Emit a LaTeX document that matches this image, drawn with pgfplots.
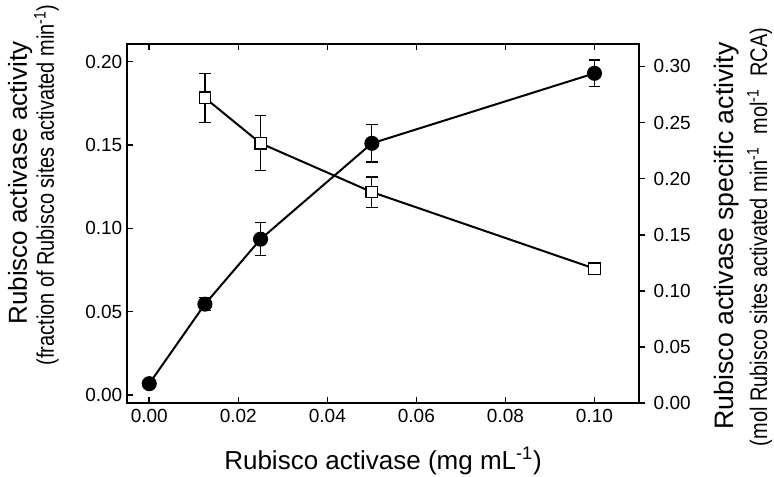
\documentclass[border=0pt]{standalone}
\usepackage{pgfplots}
\pgfplotsset{compat=1.18}
\usepackage{fontspec}
\setmainfont{Liberation Sans}
\newfontfamily\narrowfont[FakeStretch=0.83]{Liberation Sans}

\pgfplotsset{common/.style={
  scale only axis, width=384pt, height=269.25pt,
  at={(0pt,0pt)}, anchor=south west,
  xmin=-0.005, xmax=0.11,
  axis line style={line width=1.5pt},
  major tick length=4.5pt,
  every tick/.style={black, line width=1.2pt},
  minor tick num=0,
  tick label style={font=\fontsize{14.25}{16}\selectfont},
  /pgf/number format/assume math mode=true,
  /pgf/number format/fixed,
  /pgf/number format/fixed zerofill,
  /pgf/number format/precision=2,
  clip=false,
}}

\begin{document}
\begin{tikzpicture}
\path[use as bounding box] (-95.25pt,-55.5pt) rectangle (485.25pt,302.25pt);

\begin{axis}[common,
  ymin=-0.0048, ymax=0.2106,
  xtick={0,0.02,0.04,0.06,0.08,0.1},
  ytick={0,0.05,0.1,0.15,0.2},
  xtick pos=both, ytick pos=left, tick align=inside,
  xticklabel style={yshift=-1pt},
]
\addplot[black, line width=1.5pt, mark=*, mark size=4.9pt,
  mark options={solid, fill=black},
  error bars/.cd, y dir=both, y explicit,
  error bar style={line width=0.9pt},
  error mark options={rotate=90, mark size=4.4pt, line width=0.9pt}]
  table[x=x, y=y, y error=e] {
x      y       e
0      0.0068  0
0.0125 0.0545  0.004
0.025  0.0935  0.0098
0.05   0.151   0.0112
0.1    0.193   0.008
};
\end{axis}

\begin{axis}[common,
  ymin=0, ymax=0.320,
  axis x line=none, axis y line*=right,
  ytick={0,0.05,0.1,0.15,0.2,0.25,0.3},
  ytick pos=right, tick align=outside,
  yticklabel style={xshift=3pt},
]
\addplot[black, line width=1.5pt, mark=square*, mark size=4.3pt,
  mark options={solid, fill=white, line width=1pt},
  error bars/.cd, y dir=both, y explicit,
  error bar style={line width=0.9pt},
  error mark options={rotate=90, mark size=4.4pt, line width=0.9pt}]
  table[x=x, y=y, y error=e] {
x      y       e
0.0125 0.272   0.022
0.025  0.2315  0.0245
0.05   0.188   0.0135
0.1    0.1198  0
};
\end{axis}

\node[rotate=90, anchor=base, font=\fontsize{19.5}{23}\selectfont]
  at (-75pt,165pt) {Rubisco activase activity};
\node[rotate=90, anchor=base, font=\narrowfont\fontsize{18}{21}\selectfont]
  at (-54.75pt,163.5pt) {(fraction of Rubisco sites activated min\textsuperscript{-1})};
\node[rotate=90, anchor=base, font=\fontsize{20}{23}\selectfont]
  at (454.5pt,125.25pt) {Rubisco activase specific activity};
\node[rotate=90, anchor=base, font=\narrowfont\fontsize{18}{21}\selectfont]
  at (480pt,124.5pt) {(mol Rubisco sites activated min\textsuperscript{-1}\hspace{0.3em} mol\textsuperscript{-1}\hspace{0.3em} RCA)};
\node[anchor=base, font=\fontsize{19.5}{23}\selectfont]
  at (192pt,-50.25pt) {Rubisco activase (mg mL\textsuperscript{-1})};
\end{tikzpicture}
\end{document}
